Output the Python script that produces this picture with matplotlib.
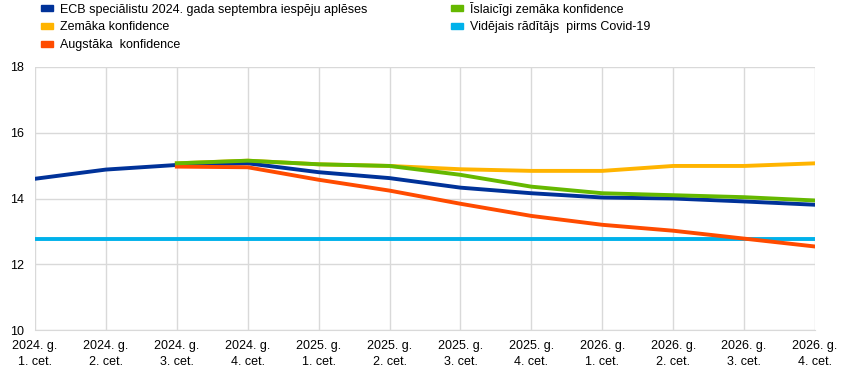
import matplotlib
matplotlib.use("Agg")
import matplotlib.pyplot as plt
from matplotlib.patches import Patch

plt.rcParams['font.family'] = ['Liberation Sans', 'DejaVu Sans']

quarters = ["2024. g.\n1. cet.", "2024. g.\n2. cet.", "2024. g.\n3. cet.", "2024. g.\n4. cet.",
            "2025. g.\n1. cet.", "2025. g.\n2. cet.", "2025. g.\n3. cet.", "2025. g.\n4. cet.",
            "2026. g.\n1. cet.", "2026. g.\n2. cet.", "2026. g.\n3. cet.", "2026. g.\n4. cet."]

baseline = [14.60, 14.88, 15.02, 15.07, 14.80, 14.62, 14.33, 14.16, 14.03, 14.00, 13.91, 13.81]
lower = [None, None, 15.07, 15.15, 15.04, 14.99, 14.89, 14.84, 14.84, 14.99, 14.99, 15.07]
temp_lower = [None, None, 15.07, 15.15, 15.04, 14.99, 14.72, 14.36, 14.16, 14.10, 14.04, 13.94]
higher = [None, None, 14.97, 14.95, 14.57, 14.24, 13.84, 13.47, 13.20, 13.02, 12.78, 12.54]
precovid = [12.78] * 12

labels = ["ECB speciālistu 2024. gada septembra iespēju aplēses",
          "Zemāka konfidence",
          "Augstāka  konfidence",
          "Īslaicīgi zemāka konfidence",
          "Vidējais rādītājs  pirms Covid-19"]
colors = ["#003299", "#FFB400", "#FF4B00", "#65B800", "#00B1EA"]

fig = plt.figure(figsize=(8.62, 3.74), dpi=100)
ax = fig.add_axes([0.0406, 0.1176, 0.9049, 0.7033])

x = list(range(len(quarters)))

def seg(vals):
    xs = [i for i, v in zip(x, vals) if v is not None]
    ys = [v for v in vals if v is not None]
    return xs, ys

lw = 2.8
ax.plot(x, precovid, color=colors[4], lw=lw, zorder=2)
ax.plot(*seg(lower), color=colors[1], lw=lw, zorder=3)
ax.plot(x, baseline, color=colors[0], lw=lw, zorder=4)
ax.plot(*seg(higher), color=colors[2], lw=lw, zorder=4)
ax.plot(*seg(temp_lower), color=colors[3], lw=lw, zorder=5)

ax.set_xlim(0, len(quarters) - 1)
ax.set_ylim(10, 18)
ax.set_yticks([10, 12, 14, 16, 18])
ax.set_xticks(x)
ax.set_xticklabels(quarters, fontsize=9, linespacing=1.45)
ax.tick_params(axis='y', labelsize=9, length=0, pad=8)
ax.tick_params(axis='x', length=0, pad=7)
ax.grid(True, color="#d9d9d9", lw=1)
ax.set_axisbelow(True)
for s in ["top", "right", "left"]:
    ax.spines[s].set_visible(False)
ax.spines["bottom"].set_color("#d9d9d9")

handles = [Patch(color=colors[i]) for i in [0, 1, 2, 3, 4]]
leg = fig.legend(handles, labels, loc="upper left", bbox_to_anchor=(0.035, 1.025), ncol=2,
                 frameon=False, fontsize=9, handlelength=0.9, handleheight=0.35,
                 handletextpad=0.6, columnspacing=6.7, labelspacing=0.45)

fig.savefig("out.png", dpi=100)
